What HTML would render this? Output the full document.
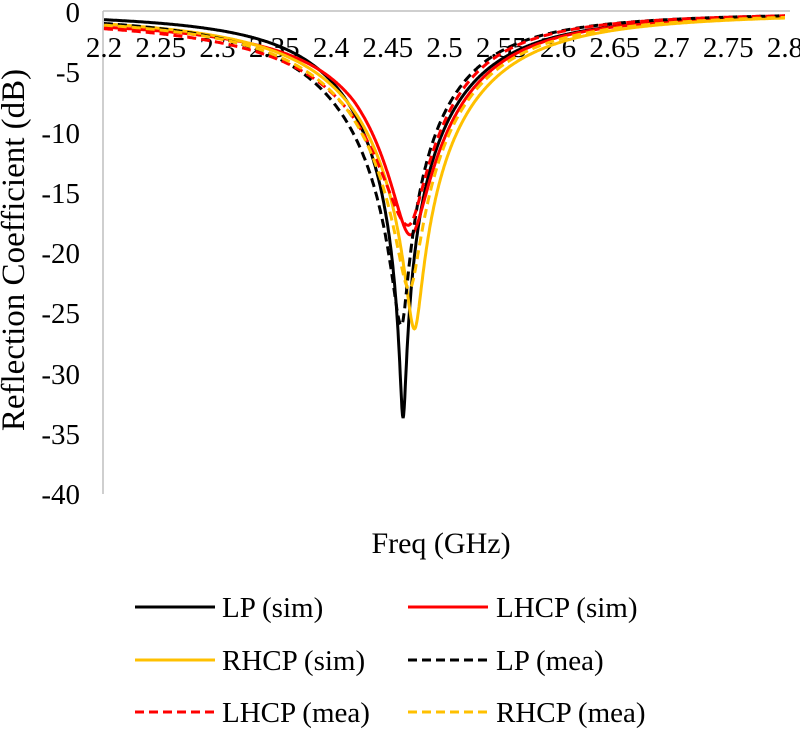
<!DOCTYPE html>
<html><head><meta charset="utf-8"><style>
body{margin:0;background:#fff;}
svg text{font-family:"Liberation Serif",serif;fill:#000;}
</style></head><body>
<svg id="s" width="800" height="730" xmlns="http://www.w3.org/2000/svg">
<line x1="103" y1="11" x2="790" y2="11" stroke="#bfbfbf" stroke-width="1.5"/>
<line x1="103" y1="11" x2="103" y2="494" stroke="#bfbfbf" stroke-width="1.5"/>
<g font-size="29" text-anchor="end">
<text x="80" y="22">0</text><text x="80" y="82">-5</text><text x="80" y="143">-10</text><text x="80" y="203">-15</text>
<text x="80" y="263">-20</text><text x="80" y="323">-25</text><text x="80" y="384">-30</text><text x="80" y="444">-35</text><text x="80" y="504">-40</text>
</g>
<g id="xl" font-size="29" text-anchor="middle"></g>
<g id="curves" fill="none" stroke-width="3"></g>
<text x="24" y="250" font-size="33" text-anchor="middle" transform="rotate(-90 24 250)">Reflection Coefficient (dB)</text>
<text x="441" y="553" font-size="30" text-anchor="middle">Freq (GHz)</text>
<g font-size="29" stroke-width="3">
<line x1="135" y1="607" x2="215" y2="607" stroke="#000"/><text x="222" y="617">LP (sim)</text>
<line x1="408" y1="607" x2="488" y2="607" stroke="#ff0000"/><text x="496" y="617">LHCP (sim)</text>
<line x1="135" y1="660" x2="215" y2="660" stroke="#ffc000"/><text x="222" y="670">RHCP (sim)</text>
<line x1="408" y1="660" x2="488" y2="660" stroke="#000" stroke-dasharray="9,5"/><text x="496" y="670">LP (mea)</text>
<line x1="135" y1="712" x2="215" y2="712" stroke="#ff0000" stroke-dasharray="9,5"/><text x="222" y="722">LHCP (mea)</text>
<line x1="408" y1="712" x2="488" y2="712" stroke="#ffc000" stroke-dasharray="9,5"/><text x="496" y="722">RHCP (mea)</text>
</g>
</svg>
<script>
var NS="http://www.w3.org/2000/svg";
function X(f){return 104+(f-2.2)/0.6*681;}
function Y(d){return 12-d*12.05;}
var xl=document.getElementById('xl');
for(var i=0;i<=12;i++){var f=2.2+i*0.05;var t=document.createElementNS(NS,'text');
t.setAttribute('x',X(f));t.setAttribute('y',57);t.textContent=(Math.round(f*100)/100).toString();xl.appendChild(t);}
var C=[
 [2.4635,-33.7,0.105,0.105,0,'#000',''],
 [2.470,-18.5,0.110,0.104,2.0,'#ff0000',''],
 [2.4735,-26.3,0.127,0.114,0.4,'#ffc000',''],
 [2.462,-26,0.13,0.093,0,'#000','9,5'],
 [2.468,-17.7,0.132,0.092,1.2,'#ff0000','9,5'],
 [2.469,-23,0.13,0.11,0.5,'#ffc000','9,5']
];
var g=document.getElementById('curves');
C.forEach(function(c){
 var r=Math.pow(10,c[1]/10),d='';
 for(var f=2.2;f<=2.8001;f+=0.0005){
  var df=f-c[0],a=Math.abs(df),s;
  if(df<0) s=c[2]*(1+c[4]*Math.max(0,a-0.05)); else s=c[3];
  var q=(a/s)*(a/s),p=q/(1+q)*(1-r)+r,db=10*Math.log10(p);
  d+=(d?'L':'M')+X(f).toFixed(1)+' '+Y(db).toFixed(1);
 }
 var e=document.createElementNS(NS,'path');e.setAttribute('d',d);e.setAttribute('stroke',c[5]);
 if(c[6])e.setAttribute('stroke-dasharray',c[6]);g.appendChild(e);
});
</script>
</body></html>
